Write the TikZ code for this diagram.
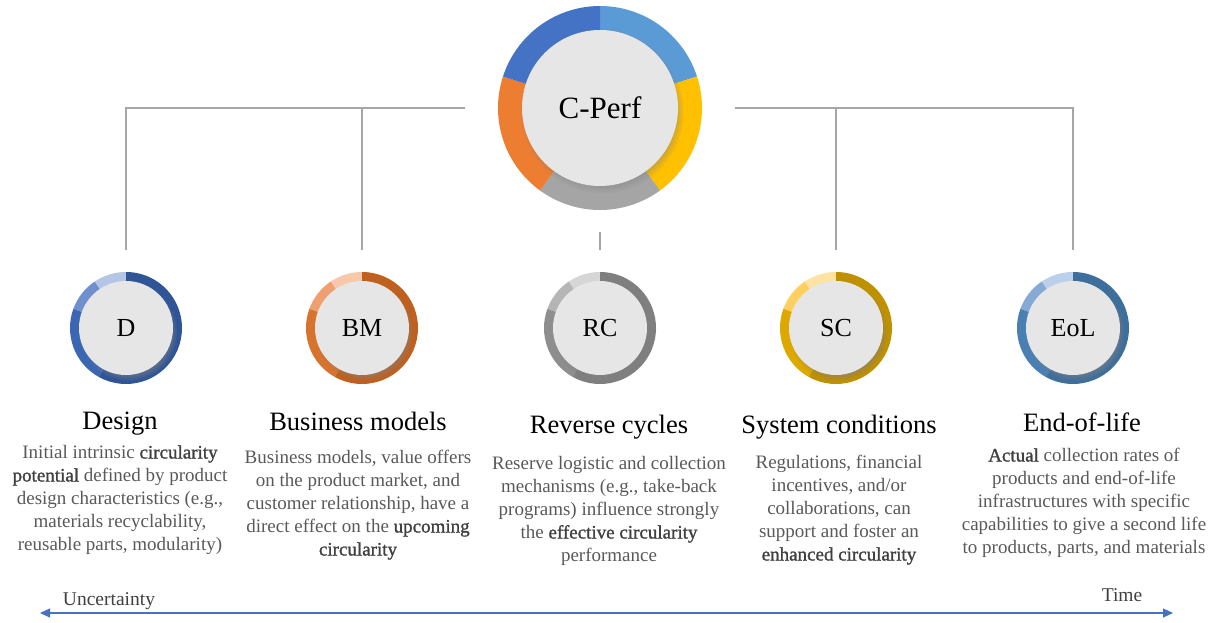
\documentclass[tikz,border=0pt]{standalone}
\usepackage{fontspec}
\setmainfont{Liberation Serif}
\newfontface\glowface{Liberation Serif}[FakeBold=1.2]
\usetikzlibrary{arrows.meta,shadows,calc}

% 颜色
\definecolor{cpA}{HTML}{5B9BD5}
\definecolor{cpB}{HTML}{FFC000}
\definecolor{cpC}{HTML}{A5A5A5}
\definecolor{cpD}{HTML}{ED7D31}
\definecolor{cpE}{HTML}{4472C4}
\definecolor{d1}{HTML}{2F5597}\definecolor{d2}{HTML}{3A66B3}\definecolor{d3}{HTML}{6E8FD0}\definecolor{d4}{HTML}{B4C5E6}
\definecolor{bm1}{HTML}{C0601E}\definecolor{bm2}{HTML}{D8732D}\definecolor{bm3}{HTML}{F0A070}\definecolor{bm4}{HTML}{F7C9AA}
\definecolor{rc1}{HTML}{7F7F7F}\definecolor{rc2}{HTML}{8E8E8E}\definecolor{rc3}{HTML}{B5B5B5}\definecolor{rc4}{HTML}{D6D6D6}
\definecolor{sc1}{HTML}{BF9000}\definecolor{sc2}{HTML}{DDA800}\definecolor{sc3}{HTML}{FFD060}\definecolor{sc4}{HTML}{FFE3A3}
\definecolor{eol1}{HTML}{3E6E9C}\definecolor{eol2}{HTML}{4A7FB3}\definecolor{eol3}{HTML}{86A9D6}\definecolor{eol4}{HTML}{BBD0EA}
\definecolor{diskfill}{HTML}{E7E6E6}
\definecolor{linkgray}{HTML}{A6A6A6}
\definecolor{bodygray}{HTML}{595959}
\definecolor{glowtext}{HTML}{404040}
\definecolor{axisblue}{HTML}{4472C4}

\newcommand\glow[1]{{\glowface\textcolor{glowtext}{#1}}}

\begin{document}
\begin{tikzpicture}[x=1pt,y=1pt,thick,>={Triangle[length=10pt,width=9pt]},
  disk/.style={circle,fill=diskfill,inner sep=0pt,
    circular drop shadow={shadow xshift=2pt,shadow yshift=-3.5pt,shadow scale=1.05,opacity=.6}},
  link/.style={draw=linkgray,line width=1.2pt},
  title/.style={anchor=base,font=\fontsize{26.5}{30}\selectfont},
  body/.style={anchor=north,align=center,text=bodygray,inner sep=0pt,font=\fontsize{19}{23}\selectfont}]

\useasboundingbox (0,0) rectangle (1219,622);

% 中心圆环
\coordinate (c0) at (600,514);
\foreach \c/\a/\b in {cpA/90/18, cpB/18/-54, cpC/-54/-126, cpD/-126/-198, cpE/162/90}
  \fill[\c] (c0) -- ++(\a:102) arc[start angle=\a, end angle=\b, radius=102] -- cycle;
\node[disk,minimum size=156pt,font=\fontsize{31}{36}\selectfont] (cperf) at (c0) {C-Perf};

% 五个小圆环
\foreach \p/\n/\t in {126/d/D, 362/bm/BM, 600/rc/RC, 836/sc/SC, 1073/eol/EoL}{
  \fill[\n4] (\p,294) -- ++(90:56) arc[start angle=90, end angle=124, radius=56] -- cycle;
  \fill[\n3] (\p,294) -- ++(124:56) arc[start angle=124, end angle=160, radius=56] -- cycle;
  \fill[\n2] (\p,294) -- ++(160:56) arc[start angle=160, end angle=241, radius=56] -- cycle;
  \fill[\n1] (\p,294) -- ++(241:56) arc[start angle=241, end angle=450, radius=56] -- cycle;
  \node[disk,minimum size=94pt,font=\fontsize{26}{30}\selectfont] (\n) at (\p,294) {\t};
}

% 连接线
\draw[link] ([xshift=-57pt]cperf.west) -| ([yshift=31pt]d.north);
\draw[link] (bm.north |- cperf.west) -- ([yshift=31pt]bm.north);
\draw[link] ([yshift=-46pt]cperf.south) -- ([yshift=31pt]rc.north);
\draw[link] (sc.north |- cperf.east) -- ([yshift=31pt]sc.north);
\draw[link] ([xshift=57pt]cperf.east) -| ([yshift=31pt]eol.north);

% 标题
\node[title] (tD) at (120,193) {Design};
\node[title] (tBM) at (358,191) {Business models};
\node[title] (tRC) at (609,188) {Reverse cycles};
\node[title] (tSC) at (839,188) {System conditions};
\node[title] (tEoL) at (1082,190) {End-of-life};

% 说明文字
\node[body] (bD) at (120,180) {\strut Initial intrinsic \glow{circularity}\\
  \glow{potential} defined by product\\ design characteristics (e.g.,\\
  materials recyclability,\\ reusable parts, modularity)};
\node[body] (bBM) at (358,175) {\strut Business models, value offers\\
  on the product market, and\\ customer relationship, have a\\
  direct effect on the \glow{upcoming}\\ \glow{circularity}};
\node[body] (bRC) at (609,169) {\strut Reserve logistic and collection\\
  mechanisms (e.g., take-back\\ programs) influence strongly\\
  the \glow{effective circularity}\\ performance};
\node[body] (bSC) at (839,170) {\strut Regulations, financial\\
  incentives, and/or\\ collaborations, can\\
  support and foster an\\ \glow{enhanced circularity}};
\node[body] (bEoL) at (1084,177) {\strut \glow{Actual} collection rates of\\
  products and end-of-life\\ infrastructures with specific\\
  capabilities to give a second life\\ to products, parts, and materials};

% 时间轴
\coordinate (tl) at (40,9);
\coordinate (tr) at (1173,9);
\draw[axisblue,line width=1.2pt,<->] (tl) -- (tr);
\node[anchor=base,text=glowtext,font=\fontsize{19.5}{23}\selectfont] (unc) at (109,17) {Uncertainty};
\node[anchor=base,text=glowtext,font=\fontsize{19.5}{23}\selectfont] (time) at (1122,21) {Time};

\end{tikzpicture}
\end{document}
